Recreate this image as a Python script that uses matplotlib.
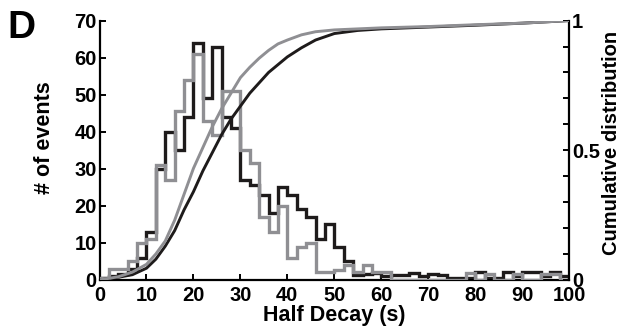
import numpy as np
import matplotlib
matplotlib.use('Agg')
import matplotlib.pyplot as plt
from matplotlib.ticker import MultipleLocator

plt.rcParams['font.family'] = ['Liberation Sans', 'DejaVu Sans']
plt.rcParams['font.weight'] = 'bold'

# histogram bins (2 s wide)
bin_edges = list(range(0, 102, 2))

# black histogram, counts per bin
black_counts = [0.5, 1, 1.5, 3, 6, 13, 30, 40, 35, 44,
                64, 49, 63, 44, 41, 27, 25.5, 23, 18, 25,
                23, 19, 17, 11, 15, 9, 5, 1.4, 1.5, 1.8,
                1, 1.4, 1.4, 1.8, 1, 1.6, 1.4, 0.5, 0.5, 0.5,
                2, 0.5, 0.5, 2, 1, 2, 2, 1, 2, 1]
# grey histogram, counts per bin
grey_counts = [0.5, 3, 3, 5, 10, 11, 31, 27, 45.5, 54,
               61, 43, 39, 51, 51, 35, 31.5, 17, 13, 20,
               6, 9, 10, 2, 2, 2.7, 4, 2.2, 4, 2.2,
               2.2, 0, 0, 0, 0, 0, 0, 0, 0, 1.8,
               0, 1.5, 0, 0, 1.5, 0, 0, 1.5, 1.5, 0]

# cumulative distributions
black_cdf_x = [0, 4, 7, 10, 12, 14, 16, 18, 20, 22, 24, 26, 28, 30, 32, 34, 36, 38, 40,
               43, 46, 50, 55, 60, 70, 80, 90, 100]
black_cdf_y = [0, 0.01, 0.02, 0.045, 0.08, 0.13, 0.19, 0.27, 0.34, 0.42, 0.49, 0.56, 0.62,
               0.67, 0.72, 0.76, 0.80, 0.83, 0.86, 0.895, 0.925, 0.95, 0.962, 0.968,
               0.975, 0.982, 0.99, 1.0]
grey_cdf_x = [0, 4, 7, 10, 12, 14, 16, 18, 20, 22, 24, 26, 28, 30, 32, 34, 36, 38, 40,
              43, 46, 50, 55, 60, 70, 80, 90, 100]
grey_cdf_y = [0, 0.012, 0.03, 0.06, 0.10, 0.15, 0.23, 0.33, 0.43, 0.51, 0.59, 0.66, 0.72,
              0.78, 0.82, 0.855, 0.885, 0.91, 0.925, 0.945, 0.957, 0.964, 0.968, 0.972,
              0.977, 0.984, 0.99, 1.0]

black = '#1e1b1b'
grey = '#8f8f93'

fig = plt.figure(figsize=(6.22, 3.32), dpi=100)
ax = fig.add_axes([0.160, 0.157, 0.755, 0.781])
ax2 = ax.twinx()

ax.stairs(black_counts, bin_edges, color=black, lw=2.4, baseline=0, zorder=2)
ax.stairs(grey_counts, bin_edges, color=grey, lw=2.4, baseline=0, zorder=3)
ax2.plot(black_cdf_x, black_cdf_y, color=black, lw=2.1, zorder=4)
ax2.plot(grey_cdf_x, grey_cdf_y, color=grey, lw=2.1, zorder=5)

ax.set_xlim(0, 100)
ax.set_ylim(0, 70)
ax2.set_ylim(0, 1)

ax.set_xticks(range(0, 101, 10))
ax.set_yticks(range(0, 71, 10))
ax2.set_yticks([0, 0.5, 1])
ax2.set_yticklabels(['0', '0.5', '1'])
ax2.yaxis.set_minor_locator(MultipleLocator(0.1))

for a in (ax, ax2):
    a.spines['top'].set_visible(False)
    for s in a.spines.values():
        s.set_linewidth(1.6)
    a.tick_params(direction='in', width=1.4, length=4, labelsize=14.5, pad=2)
    a.tick_params(which='minor', direction='in', width=1.4, length=4)
    a.patch.set_visible(False)
ax.tick_params(axis='x', pad=4.5)
ax2.spines['left'].set_visible(False)
ax2.spines['bottom'].set_visible(False)
ax.spines['right'].set_visible(False)

ax.set_xlabel('Half Decay (s)', fontsize=15.5, fontweight='bold', labelpad=0)
ax.set_ylabel('# of events', fontsize=15.5, fontweight='bold')
ax.yaxis.set_label_coords(-0.095, 0.55)
ax2.set_ylabel('Cumulative distribution', fontsize=14.5, fontweight='bold')
ax2.yaxis.set_label_coords(1.07, 0.53)

fig.text(0.012, 0.97, 'D', fontsize=28, fontweight='bold', va='top', ha='left')

fig.savefig('out.png', dpi=100)
